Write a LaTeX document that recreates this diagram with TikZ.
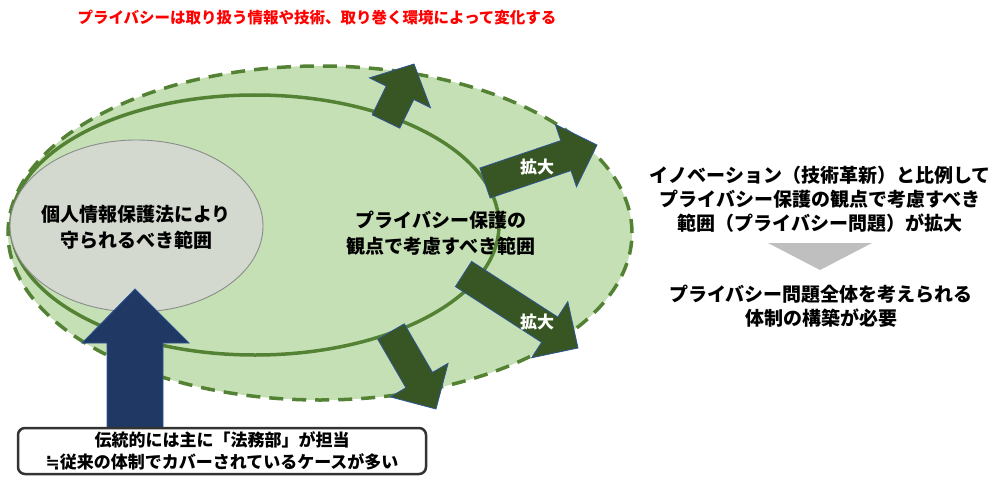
\documentclass[tikz,border=0pt]{standalone}
\usepackage{fontspec}
\setmainfont{Noto Sans CJK JP}
\newfontfamily\symfont{DejaVu Sans}
\usetikzlibrary{shapes.geometric}
\definecolor{gfill}{HTML}{C5E0B4}
\definecolor{gline}{HTML}{548235}
\definecolor{afill}{HTML}{375623}
\definecolor{aedge}{HTML}{2F5597}
\definecolor{navy}{HTML}{1F3864}
\definecolor{grayfill}{HTML}{D3D9CF}
\definecolor{grayedge}{HTML}{8C8C8C}
\definecolor{tri}{HTML}{BFBFBF}
\definecolor{boxedge}{HTML}{333333}
\begin{document}
\begin{tikzpicture}[x=1pt,y=-1pt,
  bigtxt/.style={font=\fontsize{19}{26}\selectfont\bfseries, align=center, inner sep=0pt},
  sidetxt/.style={font=\fontsize{19}{24}\selectfont\bfseries, align=center, inner sep=0pt},
  grarrow/.style={fill=afill, draw=aedge, line width=0.8pt, line join=miter},
  lbltxt/.style={font=\fontsize{17}{20}\selectfont\bfseries, text=white, inner sep=0pt}]
\useasboundingbox (0,0) rectangle (1000,476);
% title
\node[font=\fontsize{15.5}{18}\selectfont\bfseries, text=red, inner sep=0pt] (title) at (317,18) {プライバシーは取り扱う情報や技術、取り巻く環境によって変化する};
% outer dashed region
\fill[gfill] (320,233) ellipse [x radius=312pt, y radius=167pt];
\draw[gline, line width=3.5pt, dash pattern=on 14pt off 9pt] (320,233) ellipse [x radius=312pt, y radius=167pt];
% inner solid region
\draw[gline, line width=3.5pt] (255,225) ellipse [x radius=244pt, y radius=130pt];
% gray region
\node[ellipse, fill=grayfill, draw=grayedge, line width=0.9pt, minimum width=253pt, minimum height=172pt, inner sep=0pt] (law) at (136.5,226) {};
\node[bigtxt] (lawtxt) at (136,227) {個人情報保護法により\\守られるべき範囲};
\node[bigtxt] (privtxt) at (441,233) {プライバシー保護の\\観点で考慮すべき範囲};
% green block arrows
\draw[grarrow] (372.2,114.8) -- (386.2,86.1) -- (369.5,77.9) -- (414,64) -- (430.5,107.7) -- (413.8,99.5) -- (399.8,128.2) -- cycle;
\draw[grarrow] (479.9,168) -- (560.8,140.6) -- (555.3,124.4) -- (597,145) -- (576.5,186.8) -- (571,170.6) -- (490.1,198) -- cycle;
\draw[grarrow] (471.6,261.4) -- (557.8,317.1) -- (567.8,301.6) -- (578,348) -- (531.6,357.8) -- (541.6,342.3) -- (455.4,286.6) -- cycle;
\draw[grarrow] (404.3,323.8) -- (432.5,372.4) -- (448.1,363.3) -- (436,409) -- (390.3,396.9) -- (405.9,387.8) -- (377.7,339.2) -- cycle;
\node[lbltxt] (ex1) at (537,167) {拡大};
\node[lbltxt] (ex2) at (537,322) {拡大};
% right side
\node[sidetxt] (inno) at (820,199) {イノベーション（技術革新）と比例して\\プライバシー保護の観点で考慮すべき\\範囲（プライバシー問題）が拡大};
\fill[tri] (768,243) -- (872,243) -- (820,270) -- cycle;
\node[sidetxt] (need) at (821,306) {プライバシー問題全体を考えられる\\体制の構築が必要};
% blue arrow
\draw[fill=navy, draw=aedge, line width=0.8pt] (107,432) -- (107,343) -- (82,343) -- (135,289) -- (189,343) -- (163,343) -- (163,432) -- cycle;
% bottom box
\node[draw=boxedge, fill=white, line width=2.5pt, rounded corners=7pt, minimum width=408pt, minimum height=46pt, inner sep=0pt, align=center, font=\fontsize{17}{22}\selectfont\bfseries] (legal) at (222,451) {伝統的には主に「法務部」が担当\\{\symfont ≒}従来の体制でカバーされているケースが多い};
\end{tikzpicture}
\end{document}
